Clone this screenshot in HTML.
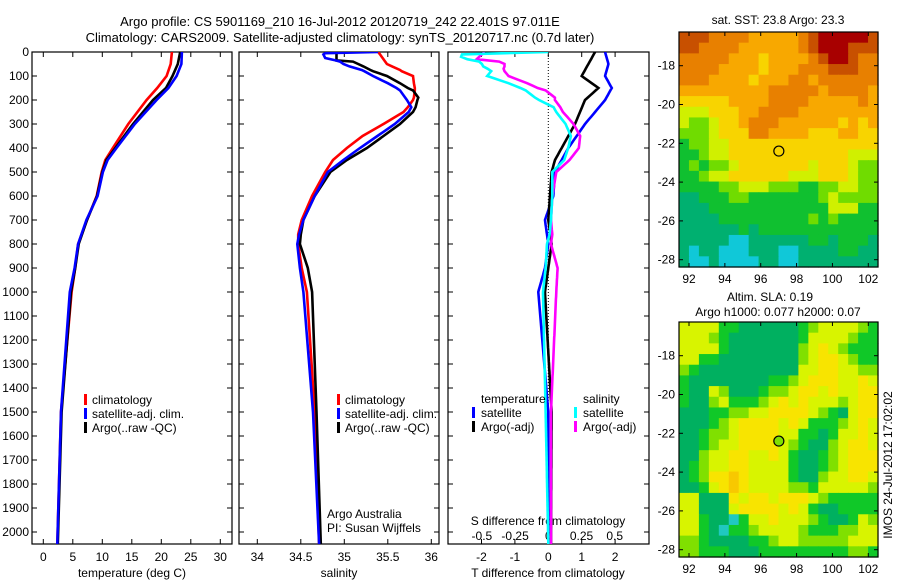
<!DOCTYPE html>
<html><head><meta charset="utf-8">
<style>
html,body{margin:0;padding:0;background:#fff;}
svg{display:block;font-family:"Liberation Sans",sans-serif;}
text{font-size:12px;fill:#000;}
</style></head>
<body>
<svg id="chart" width="900" height="580" xmlns="http://www.w3.org/2000/svg">
<text x="340" y="26" text-anchor="middle" style="font-size:13px">Argo profile: CS 5901169_210 16-Jul-2012 20120719_242 22.401S 97.011E</text>
<text x="340" y="42" text-anchor="middle" style="font-size:13px">Climatology: CARS2009. Satellite-adjusted climatology: synTS_20120717.nc (0.7d later)</text>
<g id="g"></g>
</svg>
<script>
// ---- data ----
const tempDepth=[0,50,100,150,200,300,400,450,500,600,700,800,900,1000,1500,2050];
const tempClim=[21.8,21.6,20.9,19.3,17.5,14.4,11.8,10.5,9.9,9.05,7.4,5.9,5.4,4.8,3.0,2.37];
const tempSat=[23.5,23.4,22.6,21.2,19.2,15.5,12.4,10.9,10.1,9.2,7.3,5.9,5.3,4.5,3.0,2.37];
const tempArgo=[23.2,22.8,21.9,20.8,18.6,15.2,12.2,10.7,10.0,9.1,7.4,6.0,5.4,4.7,3.1,2.45];
const salDepth=[0,5,10,25,35,40,50,60,75,80,100,130,150,160,190,200,230,250,300,350,400,450,500,600,700,760,800,900,1000,1500,2050];
const salClim=[35.39,35.40,35.41,35.44,35.46,35.47,35.49,35.55,35.64,35.66,35.79,35.80,35.81,35.81,35.80,35.79,35.73,35.68,35.45,35.21,35.03,34.87,34.78,34.63,34.51,34.47,34.47,34.51,34.57,34.66,34.71];
const salSat=[35.39,34.78,34.76,34.78,34.9,34.95,34.99,35.06,35.2,35.23,35.33,35.5,35.6,35.64,35.7,35.72,35.77,35.74,35.58,35.38,35.18,34.99,34.81,34.66,34.53,34.48,34.46,34.49,34.53,34.64,34.71];
const salArgo=[34.91,34.91,34.91,34.91,34.91,35.10,35.16,35.22,35.3,35.33,35.49,35.64,35.73,35.79,35.85,35.84,35.82,35.79,35.64,35.45,35.26,35.03,34.84,34.66,34.53,34.50,34.49,34.58,34.63,34.68,34.73];
const depthTicks=[0,100,200,300,400,500,600,700,800,900,1000,1100,1200,1300,1400,1500,1600,1700,1800,1900,2000];
const tempTicks=[0,5,10,15,20,25,30];
const salTicks=[34,34.5,35,35.5,36];
const tdTicks=[-2,-1,0,1,2];
const sdTicks=[-0.5,-0.25,0,0.25,0.5];
const sdTickLabels=["-0.5","-0.25","0","0.25","0.5"];
const latTicks=[-18,-20,-22,-24,-26,-28];
const lonTicks=[92,94,96,98,100,102];
const argoLon=97.011, argoLat=-22.401;
const sstGrid=[
"77766665555567888887","77666655555567888777","66666555455556788766","66665555455566677766",
"66655554555665666666","55555555566666566665","44444555566665555565","33344455666655555555",
"32234456665555554545","22234446655554445544","12233444444444444444","11233444444444444333",
"12122344444443444322","11233444444333444322","11112233322211223322","00111221111111232222",
"00011111111111133311","00001111111112121111","00000010111111111111","00000cc0000001101110",
"0c00ccc000cc00001100","0cc0cccc00cc00000000"];
const slaGrid=[
"33331100000012333321","33321000000013333211","33331000000023432111","33110000000023443211",
"21000000000033443322","10000000011234443343","10032000122344343344","10023111234343332344",
"00011223344443210344","00012344443431112343","00122344443311013343","00123344443210023443",
"00233443343100123444","01233443333100123444","01244543333100233443","00134543333221333332",
"33000434434443211111","33000344443431001111","33100c13343332100132","3310c112333321112233",
"22100001123322222333","22111000111111111221"];
// ---- helpers ----
const NS="http://www.w3.org/2000/svg";const G=document.getElementById('g');
function mk(tag,attrs,parent){const e=document.createElementNS(NS,tag);for(const k in attrs)e.setAttribute(k,attrs[k]);(parent||G).appendChild(e);return e;}
function txt(x,y,s,anchor,parent){const t=mk('text',{x:x,y:y,'text-anchor':anchor||'middle'},parent);t.textContent=s;return t;}
const Y0=52,YB=544;const yD=d=>Y0+d*0.24;
const xT=t=>43.3+t*5.9;const xS=s=>257.3+(s-34)*87;
const xTD=v=>548.3+v*33.4;const xSD=v=>548.3+v*132.8;
function interp(ds,vs,d){if(d<=ds[0])return vs[0];for(let i=1;i<ds.length;i++){if(d<=ds[i]){const f=(d-ds[i-1])/(ds[i]-ds[i-1]);return vs[i-1]+f*(vs[i]-vs[i-1]);}}return vs[vs.length-1];}
function line(xs,ys,color,name,clip){const p=xs.map((x,i)=>(i?'L':'M')+x.toFixed(1)+','+ys[i].toFixed(1)).join('');const e=mk('path',{d:p,fill:'none',stroke:color,'stroke-width':2.6,'clip-path':clip?'url(#'+clip+')':''});

return e;}
const defs=mk('defs',{});
function panel(x0,x1,name,xticks,xf){
 const cp=mk('clipPath',{id:'cp-'+name},defs);mk('rect',{x:x0,y:Y0,width:x1-x0,height:YB-Y0},cp);
 const g=mk('g',{});
 mk('rect',{x:x0,y:Y0,width:x1-x0,height:YB-Y0,fill:'none',stroke:'#000','stroke-width':1.2},g);
 depthTicks.forEach(d=>{mk('line',{x1:x0,x2:x0+5,y1:yD(d),y2:yD(d),stroke:'#000'},g);mk('line',{x1:x1-5,x2:x1,y1:yD(d),y2:yD(d),stroke:'#000'},g);});
 xticks.forEach(v=>{const x=xf(v);mk('line',{x1:x,x2:x,y1:Y0,y2:Y0+5,stroke:'#000'},g);mk('line',{x1:x,x2:x,y1:YB-5,y2:YB,stroke:'#000'},g);});
 return g;}
// ---- panel 1 temperature ----
const g1=panel(32,232,'temperature-panel',tempTicks,xT);
const ax=mk('g',{});
depthTicks.forEach(d=>txt(29,yD(d)+4,String(d),'end',ax));
tempTicks.forEach(v=>txt(xT(v),561,String(v),'middle',g1));
txt(132,577,'temperature (deg C)','middle',g1);
line(tempClim.map(xT),tempDepth.map(yD),'#ff0000','temp-climatology-line','cp-temperature-panel');
line(tempArgo.map(xT),tempDepth.map(yD),'#000000','temp-argo-line','cp-temperature-panel');
line(tempSat.map(xT),tempDepth.map(yD),'#0000ff','temp-satellite-line','cp-temperature-panel');
function legend(x,y,items,name){const g=mk('g',{});
 items.forEach((it,i)=>{mk('rect',{x:x,y:y+i*14-10,width:3,height:11,fill:it[0]},g);txt(x+8,y+i*14,it[1],'start',g);});}
legend(84,404,[['#ff0000','climatology'],['#0000ff','satellite-adj. clim.'],['#000','Argo(..raw -QC)']],'temperature-legend');
// ---- panel 2 salinity ----
const g2=panel(239,439,'salinity-panel',salTicks,xS);
salTicks.forEach(v=>txt(xS(v),561,String(v),'middle',g2));
txt(339,577,'salinity','middle',g2);
line(salClim.map(xS),salDepth.map(yD),'#ff0000','sal-climatology-line','cp-salinity-panel');
line(salArgo.map(xS),salDepth.map(yD),'#000000','sal-argo-line','cp-salinity-panel');
line(salSat.map(xS),salDepth.map(yD),'#0000ff','sal-satellite-line','cp-salinity-panel');
legend(337,404,[['#ff0000','climatology'],['#0000ff','satellite-adj. clim.'],['#000','Argo(..raw -QC)']],'salinity-legend');
txt(327,518,'Argo Australia','start',g2);
txt(327,532,'PI: Susan Wijffels','start',g2);
// ---- panel 3 differences ----
const g3=panel(448,649,'difference-panel',tdTicks,xTD);
mk('line',{x1:548.3,x2:548.3,y1:Y0,y2:YB,stroke:'#000','stroke-dasharray':'1,2'},g3);
tdTicks.forEach(v=>txt(xTD(v),561,String(v),'middle',g3));
sdTicks.forEach((v,i)=>txt(xSD(v),540,sdTickLabels[i],'middle',g3));
txt(548,525,'S difference from climatology','middle',g3);
txt(548,577,'T difference from climatology','middle',g3);
const dgrid=[];for(let d=0;d<=2050;d+=10)dgrid.push(d);
const dT_sat=dgrid.map(d=>interp(tempDepth,tempSat,d)-interp(tempDepth,tempClim,d));
const dT_argo=dgrid.map(d=>interp(tempDepth,tempArgo,d)-interp(tempDepth,tempClim,d));
const dS_sat=dgrid.map(d=>interp(salDepth,salSat,d)-interp(salDepth,salClim,d));
const dS_argo=dgrid.map(d=>interp(salDepth,salArgo,d)-interp(salDepth,salClim,d));
const yg=dgrid.map(yD);
line(dT_sat.map(xTD),yg,'#0000ff','tdiff-satellite-line','cp-difference-panel');
line(dT_argo.map(xTD),yg,'#000000','tdiff-argo-line','cp-difference-panel');
line(dS_argo.map(xSD),yg,'#ff00ff','sdiff-argo-line','cp-difference-panel');
line(dS_sat.map(xSD),yg,'#00ffff','sdiff-satellite-line','cp-difference-panel');
const lg=mk('g',{});
txt(481,403,'temperature','start',lg);txt(583,403,'salinity','start',lg);
mk('rect',{x:472,y:407,width:3,height:11,fill:'#0000ff'},lg);txt(481,417,'satellite','start',lg);
mk('rect',{x:472,y:421,width:3,height:11,fill:'#000'},lg);txt(481,431,'Argo(-adj)','start',lg);
mk('rect',{x:574,y:407,width:3,height:11,fill:'#00ffff'},lg);txt(583,417,'satellite','start',lg);
mk('rect',{x:574,y:421,width:3,height:11,fill:'#ff00ff'},lg);txt(583,431,'Argo(-adj)','start',lg);
// ---- maps ----
const sstCol={c:'#10c8d8','0':'#00b070','1':'#10c030','2':'#70dc00','3':'#d0f000','4':'#f8d400','5':'#f8a800','6':'#e88000','7':'#c85000','8':'#a80000'};
const slaCol={c:'#20c8c0','0':'#00b060','1':'#10c828','2':'#80e000','3':'#d8f400','4':'#f8e400','5':'#f8c800'};
function map(top,grid,cols,name,circleFill){
 const X0=679,X1=878,Y1=top+235;
 const g=mk('g',{});
 const nr=grid.length,nc=20,cw=(X1-X0)/nc,ch=(Y1-top)/nr;
 grid.forEach((row,r)=>{for(let c=0;c<nc;c++){const k=row[c]||row[row.length-1];
  const cell=mk('rect',{x:(X0+c*cw).toFixed(2),y:(top+r*ch).toFixed(2),width:(cw+0.6).toFixed(2),height:(ch+0.6).toFixed(2),fill:cols[k]},g);
  
  }});
 mk('rect',{x:X0,y:top,width:X1-X0,height:Y1-top,fill:'none',stroke:'#000','stroke-width':1.2},g);
 const lat=v=>top+33.7+(-18-v)*19.4, lon=v=>689+(v-92)*17.93;
 latTicks.forEach(v=>{mk('line',{x1:X0,x2:X0+4,y1:lat(v),y2:lat(v),stroke:'#000'},g);mk('line',{x1:X1-4,x2:X1,y1:lat(v),y2:lat(v),stroke:'#000'},g);txt(675,lat(v)+4,String(v),'end',g);});
 lonTicks.forEach(v=>{mk('line',{x1:lon(v),x2:lon(v),y1:top,y2:top+4,stroke:'#000'},g);mk('line',{x1:lon(v),x2:lon(v),y1:Y1-4,y2:Y1,stroke:'#000'},g);txt(lon(v),Y1+16,String(v),'middle',g);});
 const m=mk('circle',{cx:lon(argoLon),cy:lat(argoLat),r:5,fill:circleFill,stroke:'#000','stroke-width':1.2},g);
 
 
}
map(32,sstGrid,sstCol,'sst-map','none');
map(322,slaGrid,slaCol,'sla-map','#80e000');
txt(778,24,'sat. SST: 23.8 Argo: 23.3','middle');
txt(770,301,'Altim. SLA: 0.19','middle');
txt(778,316,'Argo h1000: 0.077 h2000: 0.07','middle');
const v=txt(0,0,'IMOS 24-Jul-2012 17:02:02','middle');v.setAttribute('transform','translate(892,465) rotate(-90)');


</script>
</body></html>
